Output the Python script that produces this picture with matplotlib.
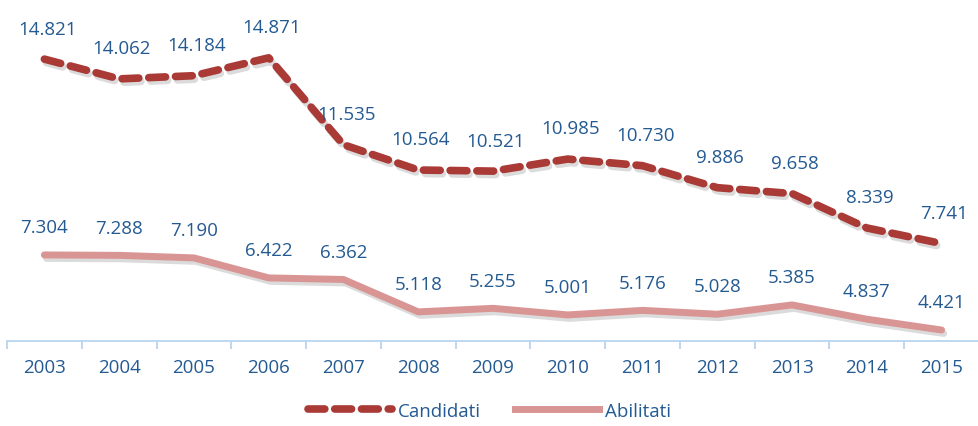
import matplotlib
matplotlib.use("Agg")
import matplotlib.pyplot as plt
import matplotlib.patheffects as pe
from matplotlib.lines import Line2D

years = ["2003", "2004", "2005", "2006", "2007", "2008", "2009", "2010",
         "2011", "2012", "2013", "2014", "2015"]
candidati = [14.821, 14.062, 14.184, 14.871, 11.535, 10.564, 10.521, 10.985,
             10.730, 9.886, 9.658, 8.339, 7.741]
abilitati = [7.304, 7.288, 7.190, 6.422, 6.362, 5.118, 5.255, 5.001,
             5.176, 5.028, 5.385, 4.837, 4.421]

plt.rcParams['font.family'] = ['Open Sans', 'DejaVu Sans']
txt_color = "#245a92"
c_cand = "#a93a36"
c_abil = "#d99594"

fig = plt.figure(figsize=(9.79, 4.27), dpi=100)
fig.patch.set_facecolor("white")
ax = fig.add_axes([7/979, 1 - 342/427, 1 - 7/979, 342/427])
ax.set_facecolor("white")

x = list(range(len(years)))
shadow = [pe.SimpleLineShadow(offset=(1.5, -2.5), shadow_color="#999999", alpha=0.35), pe.Normal()]
ax.plot(x, candidati, color=c_cand, lw=5.5, linestyle=(0, (2.2, 1.3)),
        solid_capstyle="round", dash_capstyle="round", path_effects=shadow)
ax.plot(x, abilitati, color=c_abil, lw=5, solid_capstyle="round", path_effects=shadow)

for i, v in enumerate(candidati):
    ax.annotate(f"{v:.3f}", (i, v), xytext=(2, 22), textcoords="offset points",
                ha="center", va="center", fontsize=13.5, color=txt_color)
for i, v in enumerate(abilitati):
    ax.annotate(f"{v:.3f}", (i, v), xytext=(0, 20), textcoords="offset points",
                ha="center", va="center", fontsize=13.5, color=txt_color)

ax.set_xlim(-0.5, len(years) - 0.5)
ax.set_ylim(4, 4 + 342/26.05)
for s in ["top", "right", "left"]:
    ax.spines[s].set_visible(False)
ax.spines["bottom"].set_color("#b9d4ec")
ax.spines["bottom"].set_linewidth(1.3)
ax.set_yticks([])
ax.set_xticks([i - 0.5 for i in range(len(years) + 1)], minor=False)
ax.set_xticklabels([])
ax.tick_params(axis="x", which="major", length=6, color="#b9d4ec", width=1.3)
ax.set_xticks(x, minor=True)
ax.set_xticklabels(years, minor=True)
ax.tick_params(axis="x", which="minor", length=0, pad=12, labelsize=13.5, labelcolor=txt_color)

handles = [Line2D([], [], color=c_cand, lw=5.5, linestyle=(0, (2.2, 1.3)), dash_capstyle="round"),
           Line2D([], [], color=c_abil, lw=5)]
fig.legend(handles, ["Candidati", "Abilitati"], loc="center", bbox_to_anchor=(0.5, 1 - 412/427),
           ncol=2, frameon=False, fontsize=13.5, labelcolor=txt_color, handlelength=4.5,
           handletextpad=0.3, columnspacing=1.8)

fig.savefig("out.png", dpi=100, facecolor="white")
